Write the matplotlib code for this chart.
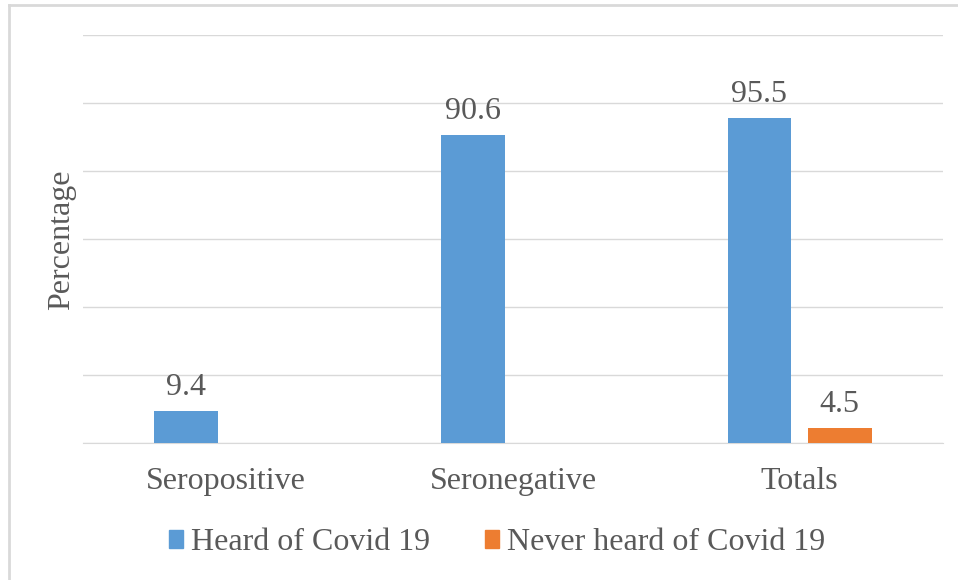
import numpy as np
import matplotlib.pyplot as plt
from matplotlib.lines import Line2D

# awareness of Covid 19 by serostatus
categories = ['Seropositive', 'Seronegative', 'Totals']
heard = [9.4, 90.6, 95.5]
never_heard = [None, None, 4.5]
series_names = ['Heard of Covid 19', 'Never heard of Covid 19']

plt.rcParams['font.family'] = ['Liberation Serif', 'DejaVu Serif']
text_col = '#595959'
blue = '#5B9BD5'
orange = '#ED7D31'
fs = 23

fig = plt.figure(figsize=(9.58, 5.8), dpi=100)
ax = fig.add_axes([0.0866, 0.2362, 0.8977, 0.7035])

x = np.arange(len(categories))
w = 0.223
off = 0.14

def bar_with_label(xpos, val, col):
    ax.bar(xpos, val, w, color=col, zorder=3)
    ax.annotate(f'{val:.1f}', (xpos, val), xytext=(0, 9), textcoords='offset pixels',
                ha='center', va='bottom', fontsize=fs, color=text_col)

for i in range(len(categories)):
    if heard[i] is not None:
        bar_with_label(x[i] - off, heard[i], blue)
    if never_heard[i] is not None:
        bar_with_label(x[i] + off, never_heard[i], orange)

ax.set_xlim(-0.5, 2.5)
ax.set_ylim(0, 120)
ax.set_yticks(np.arange(0, 121, 20))
ax.set_yticklabels([])
ax.tick_params(axis='y', length=0)
ax.grid(axis='y', color='#d9d9d9', linewidth=1, zorder=0)
ax.set_xticks(x)
ax.set_xticklabels(categories, fontsize=fs, color=text_col)
ax.tick_params(axis='x', length=0, pad=17)
for s in ['top', 'right', 'left']:
    ax.spines[s].set_visible(False)
ax.spines['bottom'].set_color('#d9d9d9')
fig.text(62 / 958, 1 - 240 / 580, 'Percentage', rotation=90, ha='center', va='center',
         fontsize=fs, color=text_col)

handles = [plt.Rectangle((0, 0), 1, 1, color=blue), plt.Rectangle((0, 0), 1, 1, color=orange)]
fig.legend(handles, series_names, loc='center', bbox_to_anchor=(0.519, 0.064), ncol=2,
           frameon=False, fontsize=fs, labelcolor=text_col, handlelength=0.45, handleheight=0.45,
           handletextpad=0.25, columnspacing=1.7)

# light frame on the left and top edges
fig.add_artist(Line2D([9 / 958, 9 / 958], [0, 1 - 5 / 580], color='#d9d9d9', lw=2))
fig.add_artist(Line2D([9 / 958, 1], [1 - 5 / 580, 1 - 5 / 580], color='#d9d9d9', lw=2))

fig.savefig('out.png', dpi=100)
